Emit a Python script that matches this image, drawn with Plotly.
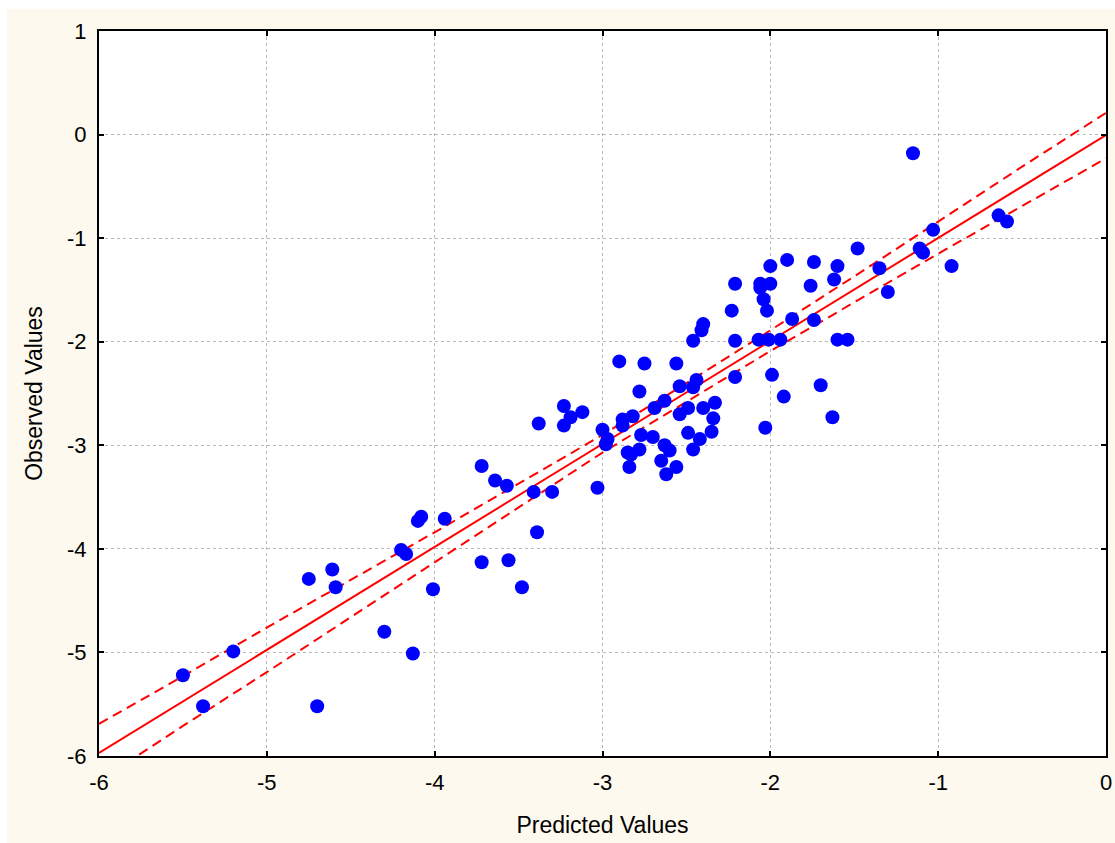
import plotly.graph_objects as go

# Observed vs predicted data
predicted = [-1.15, -0.64, -0.59, -1.03, -1.11, -1.09, -1.48, -0.92, -1.35, -1.30,
             -1.90, -1.74, -2.00, -1.60, -1.62, -1.76, -2.21, -2.06, -2.06, -2.00,
             -2.04, -2.02, -1.87, -1.74, -2.21, -2.07, -2.01, -1.94, -1.60, -1.54,
             -2.21, -1.99, -1.70, -1.92, -1.63, -2.03, -2.23, -2.40, -2.41, -2.46,
             -2.90, -2.75, -2.56, -2.44, -2.54, -2.46, -2.78, -2.63, -2.69, -2.49,
             -2.54, -2.40, -2.33, -2.82, -2.88, -2.88, -2.34, -3.00, -2.97, -2.98,
             -2.77, -2.70, -2.49, -2.35, -2.42, -2.63, -2.60, -2.78, -2.85, -2.83,
             -2.46, -2.65, -2.56, -2.84, -2.62, -3.03, -3.23, -3.19, -3.12, -3.23,
             -3.38, -3.72, -3.64, -3.57, -3.41, -3.30, -4.10, -4.08, -3.94, -4.20,
             -4.17, -3.39, -3.72, -3.56, -3.48, -4.01, -4.61, -4.75, -4.59, -5.20,
             -5.50, -5.38, -4.30, -4.13, -4.70]
observed = [-0.18, -0.78, -0.84, -0.92, -1.10, -1.14, -1.10, -1.27, -1.29, -1.52,
            -1.21, -1.23, -1.27, -1.27, -1.40, -1.46, -1.44, -1.44, -1.48, -1.44,
            -1.59, -1.70, -1.78, -1.79, -1.99, -1.98, -1.98, -1.98, -1.98, -1.98,
            -2.34, -2.32, -2.42, -2.53, -2.73, -2.83, -1.70, -1.83, -1.89, -1.99,
            -2.19, -2.21, -2.21, -2.37, -2.43, -2.44, -2.48, -2.57, -2.64, -2.64,
            -2.70, -2.64, -2.59, -2.72, -2.75, -2.81, -2.74, -2.85, -2.94, -2.99,
            -2.90, -2.92, -2.88, -2.87, -2.94, -3.00, -3.05, -3.04, -3.07, -3.09,
            -3.04, -3.15, -3.21, -3.21, -3.28, -3.41, -2.62, -2.73, -2.68, -2.81,
            -2.79, -3.20, -3.34, -3.39, -3.45, -3.45, -3.73, -3.69, -3.71, -4.01,
            -4.05, -3.84, -4.13, -4.11, -4.37, -4.39, -4.20, -4.29, -4.37, -4.99,
            -5.22, -5.52, -4.80, -5.01, -5.52]

# Regression line and 95% confidence band
fit_x = [-6.0, 0.0]
fit_y = [-5.97, -0.004]
band_x = [-6.0, -5.5, -5.0, -4.5, -4.0, -3.5, -3.0, -2.5, -2.0, -1.5, -1.0, -0.5, 0.0]
band_upper = [-5.69, -5.23, -4.76, -4.30, -3.84, -3.37, -2.90, -2.40, -1.89, -1.37, -0.84, -0.31, 0.21]
band_lower = [-6.24, -5.71, -5.19, -4.66, -4.13, -3.60, -3.07, -2.58, -2.09, -1.62, -1.15, -0.69, -0.23]

x_ticks = [-6, -5, -4, -3, -2, -1, 0]
y_ticks = [-6, -5, -4, -3, -2, -1, 0, 1]

RED = "#ff0000"
BLUE = "#0000ff"
CREAM = "#fdf9ee"
FONT = "Liberation Sans, Arial, sans-serif"

fig = go.Figure()
fig.add_trace(go.Scatter(x=band_x, y=band_upper, mode="lines",
                         line=dict(color=RED, width=2, dash="10px,6px"),
                         hoverinfo="skip", showlegend=False))
fig.add_trace(go.Scatter(x=band_x, y=band_lower, mode="lines",
                         line=dict(color=RED, width=2, dash="10px,6px"),
                         hoverinfo="skip", showlegend=False))
fig.add_trace(go.Scatter(x=fit_x, y=fit_y, mode="lines",
                         line=dict(color=RED, width=2),
                         hoverinfo="skip", showlegend=False))
fig.add_trace(go.Scatter(x=predicted, y=observed, mode="markers",
                         marker=dict(color=BLUE, size=14, line=dict(width=0)),
                         showlegend=False))

axis_common = dict(
    showline=True, linecolor="black", linewidth=2, mirror="ticks",
    ticks="inside", ticklen=5, tickwidth=1.5, tickcolor="black",
    showgrid=True, gridcolor="#b8b8b8", gridwidth=1, griddash="dot",
    zeroline=False, ticklabeloverflow="allow",
    tickfont=dict(family=FONT, size=22, color="black"),
)

fig.update_xaxes(range=[-6, 0], tickvals=x_ticks, ticktext=[str(v) for v in x_ticks],
                 title=dict(text="Predicted Values", font=dict(family=FONT, size=23, color="black"),
                            standoff=22),
                 ticklabelstandoff=6,
                 **axis_common)
fig.update_yaxes(range=[-6, 1], tickvals=y_ticks, ticktext=[str(v) for v in y_ticks],
                 title=dict(text="Observed Values", font=dict(family=FONT, size=23, color="black"),
                            standoff=18),
                 ticklabelstandoff=6,
                 **axis_common)

fig.update_layout(
    width=1115, height=843,
    margin=dict(l=99, r=9, t=31, b=87, autoexpand=False),
    paper_bgcolor=CREAM, plot_bgcolor="white",
    font=dict(family=FONT, size=22, color="black"),
    shapes=[
        # thin white border strips at the top and left of the canvas
        dict(type="rect", xref="paper", yref="paper", x0=-0.2, x1=1.2, y0=1.0303, y1=1.1,
             fillcolor="white", line=dict(width=0), layer="below"),
        dict(type="rect", xref="paper", yref="paper", x0=-0.2, x1=-0.0914, y0=-0.2, y1=1.1,
             fillcolor="white", line=dict(width=0), layer="below"),
    ],
)

fig.write_html("out.html",
               config={"displayModeBar": False},
               post_script="document.body.style.margin='0';document.body.style.overflow='hidden';")
